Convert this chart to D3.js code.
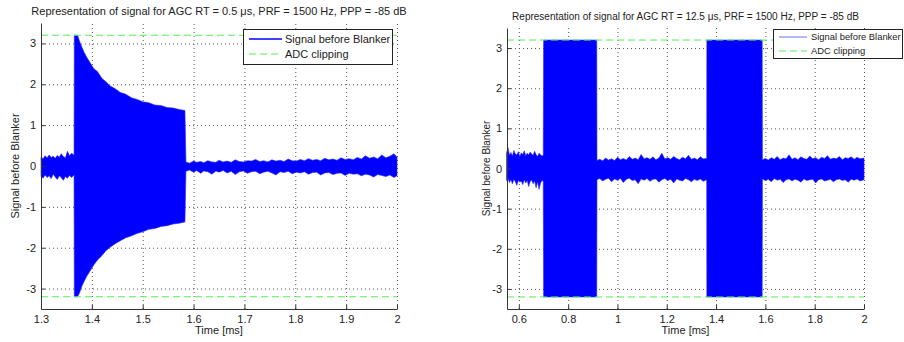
<!DOCTYPE html>
<html>
<head>
<meta charset="utf-8">
<script src="https://cdn.jsdelivr.net/npm/d3@7"></script>
<style>
  body { margin: 0; background: #fff; }
  svg text { font-family: "Liberation Sans", Arial, sans-serif; fill: #222; }
  .grid line { stroke: #555; stroke-dasharray: 1,3; }
  .grid path { display: none; }
  .axis path, .axis line { stroke: #333; }
</style>
</head>
<body>
<script>
// ---- data ----
var titles = [
  "Representation of signal for AGC RT = 0.5 \u03bcs, PRF = 1500 Hz, PPP = -85 dB",
  "Representation of signal for AGC RT = 12.5 \u03bcs, PRF = 1500 Hz, PPP = -85 dB"
];
var legendLabels = ["Signal before Blanker", "ADC clipping"];
var clipLevels = [3.2, -3.2];
var yTicks = [-3, -2, -1, 0, 1, 2, 3];
var leftXTicks = [1.3, 1.4, 1.5, 1.6, 1.7, 1.8, 1.9, 2];
var rightXTicks = [0.6, 0.8, 1, 1.2, 1.4, 1.6, 1.8, 2];

// left panel: time [ms], upper and lower envelope of the signal
var leftTime = [
  1.300, 1.304, 1.308, 1.312, 1.316, 1.320, 1.324, 1.328, 1.332, 1.336, 1.340, 1.344, 1.348, 1.352, 1.356, 1.360, 1.365,
  1.3655, 1.372, 1.376, 1.380, 1.385, 1.390, 1.397, 1.404, 1.411, 1.420, 1.428, 1.436, 1.446, 1.456, 1.466, 1.478, 1.489,
  1.500, 1.512, 1.524, 1.536, 1.548, 1.560, 1.572, 1.583,
  1.585, 1.592, 1.600, 1.606, 1.614, 1.620, 1.628, 1.636, 1.644, 1.650, 1.658, 1.666, 1.674, 1.682, 1.690, 1.698, 1.706,
  1.714, 1.722, 1.730, 1.738, 1.746, 1.754, 1.762, 1.770, 1.778, 1.786, 1.794, 1.802, 1.810, 1.818, 1.826, 1.834, 1.842,
  1.850, 1.858, 1.866, 1.874, 1.882, 1.890, 1.898, 1.906, 1.914, 1.922, 1.930, 1.938, 1.946, 1.954, 1.962, 1.970, 1.978,
  1.986, 1.994, 2.000
];
var leftUpper = [
  0.22, 0.18, 0.25, 0.20, 0.27, 0.21, 0.24, 0.19, 0.26, 0.22, 0.30, 0.23, 0.20, 0.36, 0.25, 0.31, 0.27,
  3.2, 3.2, 3.05, 2.92, 2.78, 2.66, 2.52, 2.38, 2.31, 2.14, 2.06, 1.96, 1.89, 1.80, 1.76, 1.67, 1.63,
  1.57, 1.55, 1.49, 1.48, 1.43, 1.42, 1.38, 1.36,
  0.10, 0.07, 0.12, 0.09, 0.11, 0.08, 0.13, 0.10, 0.09, 0.14, 0.10, 0.12, 0.09, 0.15, 0.11, 0.10, 0.13,
  0.12, 0.16, 0.11, 0.13, 0.10, 0.15, 0.12, 0.14, 0.11, 0.17, 0.13, 0.12, 0.16, 0.13, 0.18, 0.14, 0.16,
  0.13, 0.19, 0.15, 0.17, 0.14, 0.20, 0.16, 0.18, 0.15, 0.21, 0.17, 0.25, 0.19, 0.22, 0.18, 0.27, 0.20,
  0.24, 0.30, 0.22
];
var leftLower = [
  -0.25, -0.30, -0.22, -0.28, -0.24, -0.31, -0.20, -0.27, -0.33, -0.24, -0.29, -0.35, -0.26, -0.30, -0.23, -0.28, -0.22,
  -3.2, -3.2, -3.1, -2.95, -2.82, -2.70, -2.56, -2.42, -2.30, -2.19, -2.07, -1.99, -1.90, -1.83, -1.76, -1.71, -1.65,
  -1.61, -1.55, -1.53, -1.48, -1.46, -1.42, -1.40, -1.37,
  -0.13, -0.10, -0.15, -0.11, -0.18, -0.12, -0.14, -0.20, -0.12, -0.15, -0.11, -0.17, -0.13, -0.21, -0.14, -0.12, -0.18,
  -0.14, -0.13, -0.19, -0.15, -0.13, -0.17, -0.22, -0.14, -0.16, -0.13, -0.19, -0.15, -0.17, -0.14, -0.20, -0.16, -0.15,
  -0.22, -0.17, -0.16, -0.21, -0.18, -0.17, -0.23, -0.18, -0.20, -0.19, -0.24, -0.20, -0.22, -0.27, -0.21, -0.23, -0.26,
  -0.22, -0.28, -0.24
];

// right panel
var rightTime = [
  0.550, 0.556, 0.562, 0.568, 0.574, 0.580, 0.586, 0.592, 0.598, 0.604, 0.610, 0.616, 0.622, 0.628, 0.634, 0.640, 0.646,
  0.652, 0.658, 0.664, 0.670, 0.676, 0.682, 0.688, 0.694, 0.699,
  0.7005, 0.916,
  0.917, 0.928, 0.940, 0.952, 0.964, 0.976, 0.988, 1.000, 1.012, 1.024, 1.036, 1.048, 1.060, 1.072, 1.084, 1.096, 1.108,
  1.120, 1.132, 1.144, 1.156, 1.168, 1.180, 1.192, 1.204, 1.216, 1.228, 1.240, 1.252, 1.264, 1.276, 1.288, 1.300, 1.312,
  1.324, 1.336, 1.348, 1.362,
  1.3625, 1.587,
  1.588, 1.600, 1.612, 1.624, 1.636, 1.648, 1.660, 1.672, 1.684, 1.696, 1.708, 1.720, 1.732, 1.744, 1.756, 1.768, 1.780,
  1.792, 1.804, 1.816, 1.828, 1.840, 1.852, 1.864, 1.876, 1.888, 1.900, 1.912, 1.924, 1.936, 1.948, 1.960, 1.972, 1.984,
  2.000
];
var rightUpper = [
  0.38, 0.52, 0.33, 0.40, 0.31, 0.45, 0.36, 0.34, 0.42, 0.30, 0.39, 0.35, 0.44, 0.32, 0.38, 0.34, 0.41,
  0.36, 0.33, 0.43, 0.35, 0.30, 0.38, 0.34, 0.31, 0.33,
  3.2, 3.2,
  0.20, 0.23, 0.19, 0.26, 0.21, 0.24, 0.20, 0.28, 0.22, 0.25, 0.21, 0.30, 0.23, 0.26, 0.22, 0.35, 0.24,
  0.27, 0.23, 0.29, 0.22, 0.26, 0.38, 0.24, 0.27, 0.23, 0.30, 0.25, 0.22, 0.28, 0.24, 0.33, 0.23, 0.26,
  0.22, 0.29, 0.24, 0.25,
  3.2, 3.2,
  0.22, 0.25, 0.21, 0.27, 0.23, 0.30, 0.22, 0.26, 0.24, 0.34, 0.23, 0.27, 0.22, 0.29, 0.25, 0.23, 0.31,
  0.24, 0.27, 0.22, 0.28, 0.25, 0.32, 0.23, 0.26, 0.24, 0.30, 0.22, 0.27, 0.25, 0.29, 0.23, 0.28, 0.24,
  0.26
];
var rightLower = [
  -0.30, -0.25, -0.35, -0.28, -0.38, -0.27, -0.33, -0.42, -0.29, -0.34, -0.31, -0.40, -0.28, -0.36, -0.30, -0.45, -0.32,
  -0.29, -0.38, -0.31, -0.48, -0.33, -0.52, -0.36, -0.30, -0.32,
  -3.2, -3.2,
  -0.28, -0.25, -0.31, -0.27, -0.24, -0.33, -0.26, -0.29, -0.25, -0.35, -0.27, -0.24, -0.30, -0.28, -0.38, -0.26, -0.29,
  -0.25, -0.32, -0.27, -0.26, -0.34, -0.28, -0.25, -0.30, -0.27, -0.36, -0.26, -0.29, -0.31, -0.25, -0.28, -0.33, -0.27,
  -0.30, -0.26, -0.32, -0.28,
  -3.2, -3.2,
  -0.26, -0.30, -0.27, -0.33, -0.25, -0.29, -0.27, -0.35, -0.28, -0.26, -0.31, -0.27, -0.29, -0.34, -0.26, -0.30, -0.28,
  -0.27, -0.36, -0.28, -0.26, -0.31, -0.29, -0.27, -0.33, -0.28, -0.26, -0.30, -0.28, -0.34, -0.27, -0.29, -0.26, -0.31,
  -0.28
];

// ---- layout ----
var width = 904, height = 342;

var svg = d3.select("body").append("svg")
  .attr("width", width)
  .attr("height", height);

var panels = [
  {
    title: titles[0], titleY: 15, titleSize: 11,
    x0: 41, x1: 397, y0: 309, y1: 23,
    xDomain: [1.3, 2], xTicks: leftXTicks,
    time: leftTime, upper: leftUpper, lower: leftLower,
    labelSize: 11, ylabelX: 19, ylabelSize: 11,
    legend: { x: 243, y: 29, w: 149, h: 35, row1: 39, row2: 54, lineX: 249, lineW: 33, textX: 285, size: 11, signalColor: "#0000ff", signalWidth: 1.6 }
  },
  {
    title: titles[1], titleY: 20, titleSize: 10,
    x0: 507, x1: 864, y0: 309, y1: 28,
    xDomain: [0.552, 2], xTicks: rightXTicks,
    time: rightTime, upper: rightUpper, lower: rightLower,
    labelSize: 11, ylabelX: 490, ylabelSize: 10,
    legend: { x: 773, y: 29, w: 129, h: 29, row1: 37, row2: 51, lineX: 779, lineW: 28, textX: 811, size: 9.4, signalColor: "#6f6fff", signalWidth: 1 }
  }
];

// MATLAB style labels: plain hyphen for minus, no trailing zeros
var fmt = function(d) { return d3.format("~g")(d).replace("\u2212", "-"); };

panels.forEach(drawPanel);

function drawPanel(p) {
  var x = d3.scaleLinear().domain(p.xDomain).range([p.x0, p.x1]);
  var y = d3.scaleLinear().domain([-3.5, 3.5]).range([p.y0, p.y1]);

  var g = svg.append("g");

  // dotted grid
  g.append("g")
    .attr("class", "grid")
    .attr("transform", "translate(0," + p.y0 + ")")
    .call(d3.axisBottom(x).tickValues(p.xTicks).tickSize(-(p.y0 - p.y1)).tickFormat(""));
  g.append("g")
    .attr("class", "grid")
    .attr("transform", "translate(" + p.x0 + ",0)")
    .call(d3.axisLeft(y).tickValues(yTicks).tickSize(-(p.x1 - p.x0)).tickFormat(""));

  // signal band
  var band = d3.area()
    .x(function(d, i) { return x(p.time[i]); })
    .y0(function(d, i) { return y(p.lower[i]); })
    .y1(function(d, i) { return y(p.upper[i]); });

  g.append("path")
    .datum(p.time)
    .attr("d", band)
    .attr("fill", "#0000ff")
    .attr("stroke", "#2a2aff")
    .attr("stroke-width", 0.6);

  // ADC clipping lines
  g.selectAll(".clip")
    .data(clipLevels)
    .enter().append("line")
    .attr("class", "clip")
    .attr("x1", p.x0)
    .attr("x2", p.x1)
    .attr("y1", function(d) { return y(d); })
    .attr("y2", function(d) { return y(d); })
    .attr("stroke", "#55ee55")
    .attr("stroke-width", 1)
    .attr("stroke-dasharray", "7,4");

  // axes, ticks pointing in
  var xAxis = g.append("g")
    .attr("class", "axis")
    .attr("transform", "translate(0," + p.y0 + ")")
    .call(d3.axisBottom(x).tickValues(p.xTicks).tickSizeInner(-4).tickSizeOuter(0).tickPadding(6).tickFormat(fmt));
  xAxis.selectAll("text").style("font-size", p.labelSize + "px").attr("fill", "#222");

  var yAxis = g.append("g")
    .attr("class", "axis")
    .attr("transform", "translate(" + p.x0 + ",0)")
    .call(d3.axisLeft(y).tickValues(yTicks).tickSizeInner(-4).tickSizeOuter(0).tickPadding(5).tickFormat(fmt));
  yAxis.selectAll("text").style("font-size", p.labelSize + "px").attr("fill", "#222");

  // title and labels
  var cx = (p.x0 + p.x1) / 2;
  g.append("text")
    .attr("x", cx)
    .attr("y", p.titleY)
    .attr("text-anchor", "middle")
    .style("font-size", p.titleSize + "px")
    .text(p.title);

  g.append("text")
    .attr("x", cx)
    .attr("y", 334)
    .attr("text-anchor", "middle")
    .style("font-size", "11px")
    .text("Time [ms]");

  g.append("text")
    .attr("transform", "translate(" + p.ylabelX + "," + y(0) + ") rotate(-90)")
    .attr("text-anchor", "middle")
    .style("font-size", p.ylabelSize + "px")
    .text("Signal before Blanker");

  // legend
  var L = p.legend;
  var leg = g.append("g");
  leg.append("rect")
    .attr("x", L.x + 0.5).attr("y", L.y + 0.5)
    .attr("width", L.w).attr("height", L.h)
    .attr("fill", "#fff")
    .attr("stroke", "#222");
  leg.append("line")
    .attr("x1", L.lineX).attr("x2", L.lineX + L.lineW)
    .attr("y1", L.row1).attr("y2", L.row1)
    .attr("stroke", L.signalColor)
    .attr("stroke-width", L.signalWidth);
  leg.append("line")
    .attr("x1", L.lineX).attr("x2", L.lineX + L.lineW)
    .attr("y1", L.row2).attr("y2", L.row2)
    .attr("stroke", "#55ee55")
    .attr("stroke-dasharray", "7,4");
  leg.selectAll(".legtext")
    .data(legendLabels)
    .enter().append("text")
    .attr("class", "legtext")
    .attr("x", L.textX)
    .attr("y", function(d, i) { return i == 0 ? L.row1 : L.row2; })
    .attr("dy", "0.35em")
    .style("font-size", L.size + "px")
    .text(function(d) { return d; });
}
</script>
</body>
</html>
